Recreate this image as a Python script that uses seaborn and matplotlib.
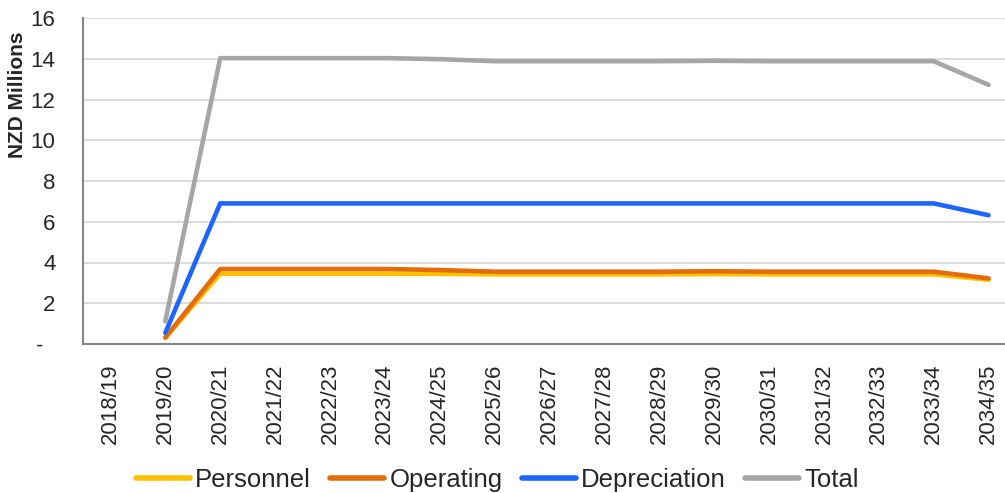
import pandas as pd
import numpy as np
import matplotlib
matplotlib.use('Agg')
import matplotlib.pyplot as plt
import seaborn as sns

years = ['2018/19', '2019/20', '2020/21', '2021/22', '2022/23', '2023/24', '2024/25',
         '2025/26', '2026/27', '2027/28', '2028/29', '2029/30', '2030/31', '2031/32',
         '2032/33', '2033/34', '2034/35']
personnel = [np.nan, 0.30, 3.45, 3.45, 3.45, 3.45, 3.44, 3.42, 3.42, 3.42, 3.42, 3.43, 3.42, 3.42, 3.42, 3.42, 3.15]
operating = [np.nan, 0.32, 3.68, 3.68, 3.68, 3.68, 3.63, 3.55, 3.55, 3.55, 3.55, 3.57, 3.55, 3.55, 3.55, 3.55, 3.22]
depreciation = [np.nan, 0.55, 6.90, 6.90, 6.90, 6.90, 6.90, 6.90, 6.90, 6.90, 6.90, 6.90, 6.90, 6.90, 6.90, 6.90, 6.32]
total = [np.nan, 1.12, 14.03, 14.03, 14.03, 14.03, 13.98, 13.88, 13.88, 13.88, 13.88, 13.90, 13.88, 13.88, 13.88, 13.88, 12.72]

series = ['Personnel', 'Operating', 'Depreciation', 'Total']
colors = ['#FFC000', '#E46C0A', '#1C65FF', '#A6A6A6']
y_ticks = [0, 2, 4, 6, 8, 10, 12, 14, 16]
y_labels = ['-  ', '2', '4', '6', '8', '10', '12', '14', '16']

df = pd.DataFrame({'pos': np.arange(len(years)), 'Personnel': personnel, 'Operating': operating,
                   'Depreciation': depreciation, 'Total': total})
long = df.melt(id_vars='pos', var_name='series', value_name='value')

sns.set_style('white')
plt.rcParams['font.family'] = ['Liberation Sans', 'DejaVu Sans']

fig = plt.figure(figsize=(10.05, 4.93), dpi=100)
ax = fig.add_axes([83 / 1005, 1 - 344 / 493, 933 / 1005, 326 / 493])

sns.lineplot(data=long, x='pos', y='value', hue='series', hue_order=series,
             palette=dict(zip(series, colors)), linewidth=3.3, ax=ax,
             solid_capstyle='round', legend=False)

ax.set_xlim(-0.5, len(years) - 0.5)
ax.set_ylim(0, 16)
ax.set_yticks(y_ticks)
ax.set_yticklabels(y_labels, fontsize=16)
ax.yaxis.grid(True, color='#D9D9D9', linewidth=1.3)
ax.set_axisbelow(True)

ax.set_xticks(np.arange(len(years) + 1) - 0.5)
ax.set_xticklabels([])
ax.set_xticks(np.arange(len(years)), minor=True)
ax.set_xticklabels(years, minor=True, rotation=90, fontsize=16)
ax.tick_params(axis='x', which='minor', length=0, pad=14)
ax.tick_params(axis='x', which='major', length=5.5, width=1.3, color='#868686', direction='out')
ax.tick_params(axis='y', length=5.8, width=1.3, color='#868686', direction='out', pad=14)
ax.set_xlabel('')
ax.set_ylabel('NZD Millions', fontsize=15, fontweight='bold')
ax.yaxis.set_label_coords(-0.060, 0.764)

for s in ['top', 'right']:
    ax.spines[s].set_visible(False)
for s in ['left', 'bottom']:
    ax.spines[s].set_color('#868686')
    ax.spines[s].set_linewidth(1.5)

handles = [plt.Line2D([], [], color=c, linewidth=4.0, solid_capstyle='round') for c in colors]
fig.legend(handles, series, loc='center', bbox_to_anchor=(0.495, 1 - 480 / 493), ncol=4,
           frameon=False, handlelength=2.1, handletextpad=0.2, columnspacing=0.75,
           prop={'size': 18.5})

fig.savefig('out.png', dpi=100)
